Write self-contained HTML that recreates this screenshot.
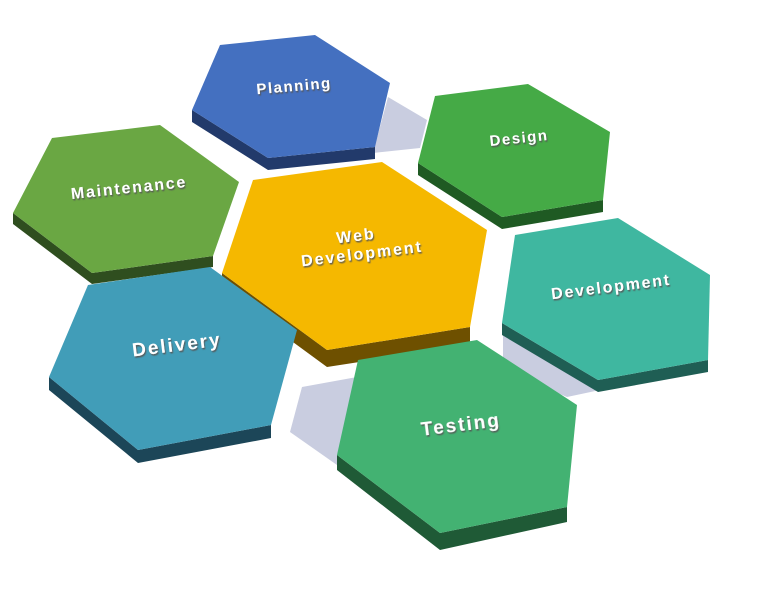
<!DOCTYPE html>
<html><head><meta charset="utf-8"><style>
html,body{margin:0;padding:0;background:#fff;}
svg{display:block}
text{font-family:"Liberation Sans",sans-serif;font-weight:bold;fill:#fff;text-anchor:middle;}
</style></head><body>
<svg width="774" height="593" viewBox="0 0 774 593" xmlns="http://www.w3.org/2000/svg">
<defs>
<filter id="ts" x="-20%" y="-50%" width="140%" height="200%"><feDropShadow dx="1" dy="1.5" stdDeviation="0.6" flood-color="#555" flood-opacity="0.9"/></filter>
</defs>
<polygon points="388,97 427,120 420,148 373,153" fill="#c9cde0"/>
<polygon points="503,330 503,370 567,397 600,390" fill="#c9cde0"/>
<polygon points="302,387 357,377 337,465 290,432" fill="#c9cde0"/>

<polygon points="192,110 192,122 268,170 375,159 375,147 268,158" fill="#223a6b"/>
<polygon points="220,45 315,35 390,83 375,147 268,158 192,110" fill="#4470c0"/>
<polygon points="418,163 418,175 502,229 603,212 603,200 502,217" fill="#1f5a23"/>
<polygon points="435,96 528,84 610,132 603,200 502,217 418,163" fill="#45aa46"/>
<polygon points="13,213 13,224 92,284 213,267 213,256 92,273" fill="#2f4e1f"/>
<polygon points="52,138 160,125 239,182 213,256 92,273 13,213" fill="#6aa743"/>
<polygon points="222,273 222,290 327,367 470,345 470,327 327,350" fill="#6e5000"/>
<polygon points="253,180 382,162 487,230 470,327 327,350 222,273" fill="#f5b800"/>
<polygon points="502,323 502,335 598,392 708,372 708,360 598,380" fill="#1f5e54"/>
<polygon points="515,235 618,218 710,275 708,360 598,380 502,323" fill="#3fb7a0"/>
<polygon points="49,377 49,390 138,463 271,438 271,425 138,450" fill="#1c4658"/>
<polygon points="88,285 210,267 297,330 271,425 138,450 49,377" fill="#419db8"/>
<polygon points="337,455 337,470 440,550 567,522 567,507 440,533" fill="#1f5a36"/>
<polygon points="358,360 477,340 577,405 567,507 440,533 337,455" fill="#43b272"/>

<g filter="url(#ts)">
<text x="294" y="91" font-size="15" letter-spacing="1.5" transform="rotate(-5 294 86)">Planning</text>
<text x="519" y="143" font-size="15" letter-spacing="1.5" transform="rotate(-6 519 138)">Design</text>
<text x="129" y="193" font-size="16" letter-spacing="1.8" transform="rotate(-6 129 188)">Maintenance</text>
<text x="356" y="241" font-size="16" letter-spacing="2" transform="rotate(-7 356 236)">Web</text>
<text x="362" y="259" font-size="16" letter-spacing="2" transform="rotate(-7 362 254)">Development</text>
<text x="611" y="292" font-size="16" letter-spacing="1.8" transform="rotate(-7 611 287)">Development</text>
<text x="177" y="351" font-size="19" letter-spacing="2" transform="rotate(-7 177 346)">Delivery</text>
<text x="461" y="431" font-size="19" letter-spacing="2" transform="rotate(-7 461 426)">Testing</text>
</g>
</svg>
</body></html>
